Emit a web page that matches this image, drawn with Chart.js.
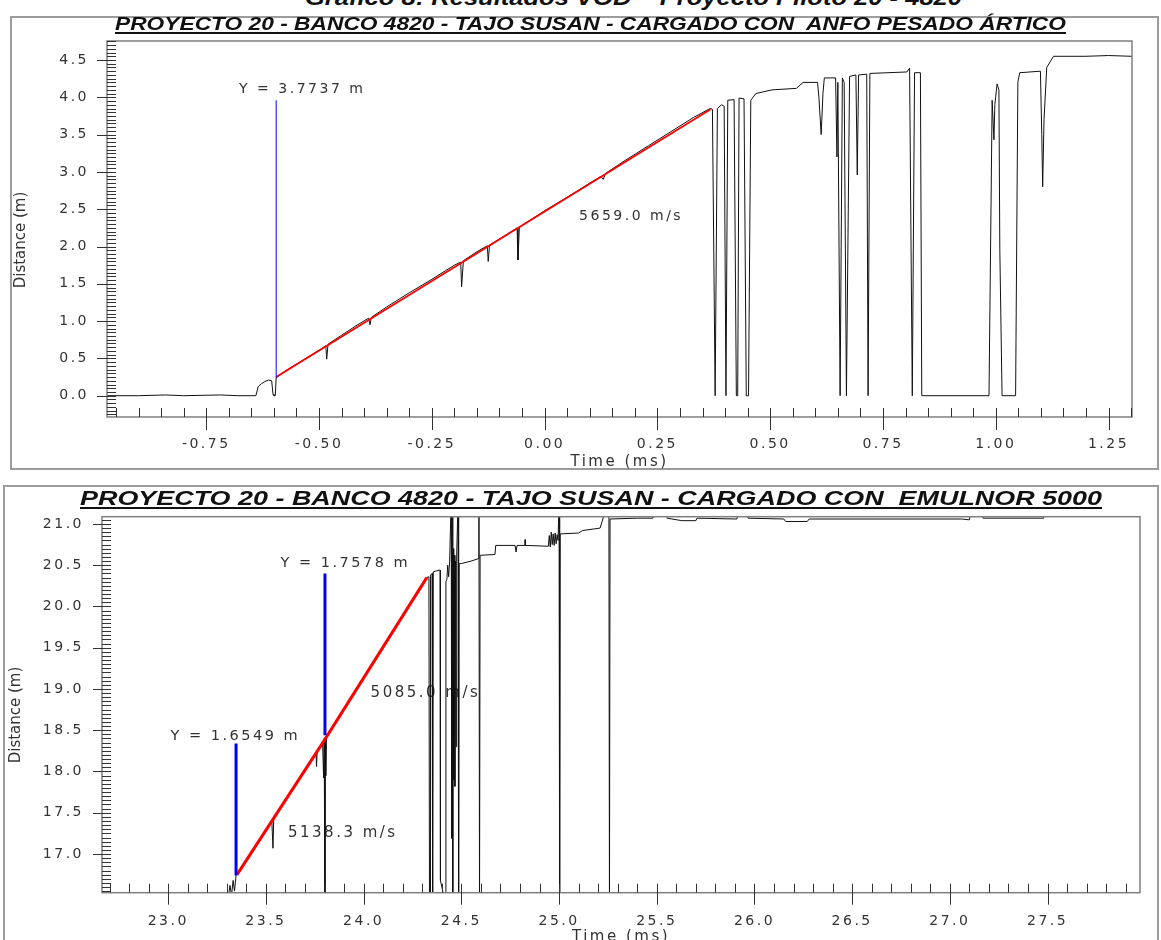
<!DOCTYPE html>
<html>
<head>
<meta charset="utf-8">
<title>Resultados VOD - Proyecto Piloto 20 - 4820</title>
<script src="https://cdn.jsdelivr.net/npm/chart.js"></script>
<style>
    html, body { margin: 0; padding: 0; background: #fff; }
    body { width: 1161px; height: 940px; position: relative; overflow: hidden; }
    .frame { position: absolute; border: 2px solid #9c9c9c; box-sizing: border-box; }
    .box { position: absolute; left: 0; width: 1161px; height: 470px; }
    .ttl { position: absolute; white-space: pre; font-weight: bold; font-style: italic; color: #111;
           transform-origin: 0 0; text-decoration: underline; text-decoration-thickness: 2px; text-underline-offset: 2px; }
    #cap { font-family: "Liberation Sans Narrow", "Liberation Sans", sans-serif; font-size: 22px; line-height: 22px; top: -13px; text-decoration: none; }
    #anfoTitle { font-family: "Liberation Sans Narrow", "Liberation Sans", sans-serif; font-size: 19px; line-height: 19px; top: 14px; }
    #emulTitle { font-family: "Liberation Sans", sans-serif; font-size: 21px; line-height: 21px; top: 487px; }
</style>
</head>
<body>
<div id="cap" class="ttl">Gráfico 8: Resultados VOD – Proyecto Piloto 20 - 4820</div>
<div class="frame" style="left:10px; top:16px; width:1149px; height:454px;"></div>
<div class="frame" style="left:3px; top:485px; width:1156px; height:470px;"></div>
<div class="box" style="top:0"><canvas id="anfoChart"></canvas></div>
<div class="box" style="top:470px"><canvas id="emulChart"></canvas></div>
<div id="anfoTitle" class="ttl">PROYECTO 20 - BANCO 4820 - TAJO SUSAN - CARGADO CON  ANFO PESADO ÁRTICO</div>
<div id="emulTitle" class="ttl">PROYECTO 20 - BANCO 4820 - TAJO SUSAN - CARGADO CON  EMULNOR 5000</div>

<script>
// ---- panel 1: ANFO pesado artico  [time ms, distance m] ----
const anfoTrace = [
    [-0.970, 0.00], [-0.90, 0.00], [-0.84, 0.01], [-0.80, 0.00], [-0.72, 0.01], [-0.68, 0.00],
    [-0.640, 0.00], [-0.635, 0.12], [-0.628, 0.16], [-0.620, 0.19], [-0.612, 0.21], [-0.605, 0.20],
    [-0.602, 0.02], [-0.600, 0.00], [-0.597, 0.00], [-0.595, 0.24], [-0.57, 0.35], [-0.54, 0.46],
    [-0.50, 0.61], [-0.485, 0.67], [-0.483, 0.49], [-0.480, 0.69], [-0.45, 0.81], [-0.42, 0.93],
    [-0.39, 1.04], [-0.387, 0.95], [-0.384, 1.05], [-0.35, 1.19], [-0.30, 1.38], [-0.25, 1.56],
    [-0.20, 1.75], [-0.186, 1.79], [-0.184, 1.46], [-0.180, 1.81], [-0.15, 1.93], [-0.127, 2.01],
    [-0.125, 1.80], [-0.122, 2.02], [-0.09, 2.14], [-0.061, 2.25], [-0.059, 1.82], [-0.056, 2.26],
    [0.00, 2.48], [0.05, 2.66], [0.10, 2.85], [0.125, 2.94], [0.130, 2.90], [0.135, 2.98],
    [0.18, 3.16], [0.23, 3.35], [0.28, 3.54], [0.33, 3.73], [0.367, 3.85], [0.372, 3.84],
    [0.378, 0.00], [0.383, 3.85], [0.392, 3.90], [0.398, 3.88], [0.402, 0.00], [0.406, 3.96],
    [0.420, 3.97], [0.425, 0.00], [0.428, 0.00], [0.431, 3.99], [0.442, 3.98], [0.447, 0.00],
    [0.452, 0.00], [0.457, 3.96], [0.468, 4.05], [0.504, 4.10], [0.558, 4.12], [0.573, 4.20],
    [0.605, 4.20], [0.608, 4.00], [0.613, 3.50], [0.617, 4.05], [0.620, 4.26], [0.645, 4.26],
    [0.648, 3.20], [0.650, 4.20], [0.655, 0.00], [0.660, 4.26], [0.664, 4.20], [0.669, 0.00],
    [0.676, 4.28], [0.690, 4.30], [0.693, 2.96], [0.696, 4.30], [0.714, 4.31], [0.717, 0.00],
    [0.721, 4.32], [0.803, 4.34], [0.809, 4.39], [0.815, 0.00], [0.820, 4.33], [0.833, 4.33],
    [0.836, 0.00], [0.985, 0.00], [0.992, 3.96], [0.996, 3.43], [0.998, 3.90], [1.003, 4.18],
    [1.007, 4.10], [1.009, 1.96], [1.014, 0.00], [1.044, 0.00], [1.049, 4.20], [1.053, 4.33],
    [1.099, 4.35], [1.102, 3.50], [1.104, 2.80], [1.107, 3.70], [1.113, 4.40], [1.128, 4.55],
    [1.20, 4.55], [1.25, 4.56], [1.302, 4.55]
];
const anfoFit = [[-0.595, 0.25], [0.368, 3.84]];
const anfoMarker = [[-0.595, 0.24], [-0.595, 3.96]];
const anfoTicksX = [-0.75, -0.50, -0.25, 0.00, 0.25, 0.50, 0.75, 1.00, 1.25];
const anfoTicksY = [0.0, 0.5, 1.0, 1.5, 2.0, 2.5, 3.0, 3.5, 4.0, 4.5];

// ---- panel 2: EMULNOR 5000 ----
const emulTrace = [
    [23.290, 16.40], [23.306, 16.45], [23.316, 16.62], [23.324, 16.50], [23.332, 16.68], [23.339, 16.55],
    [23.347, 16.74], [23.36, 16.78], [23.40, 16.91], [23.45, 17.10], [23.50, 17.29], [23.530, 17.41],
    [23.536, 17.07], [23.540, 17.44], [23.58, 17.58], [23.62, 17.73], [23.66, 17.88], [23.70, 18.02],
    [23.74, 18.17], [23.756, 18.23], [23.759, 18.06], [23.762, 18.25], [23.790, 18.35], [23.795, 17.92],
    [23.798, 18.40], [23.802, 16.30], [23.804, 18.42], [23.806, 17.95], [23.810, 18.44], [23.85, 18.57],
    [23.90, 18.76], [23.95, 18.93], [24.00, 19.13], [24.05, 19.31], [24.10, 19.50], [24.15, 19.69],
    [24.20, 19.88], [24.25, 20.07], [24.30, 20.26], [24.323, 20.35], [24.334, 20.36], [24.337, 16.30],
    [24.340, 16.30], [24.342, 20.38], [24.350, 20.40], [24.353, 16.30], [24.356, 20.42], [24.386, 20.44],
    [24.391, 20.44], [24.393, 16.68], [24.418, 16.40], [24.421, 20.30], [24.426, 20.33], [24.430, 20.50],
    [24.435, 20.36], [24.440, 20.55], [24.448, 21.30], [24.451, 17.19], [24.453, 20.60], [24.455, 21.30],
    [24.457, 16.30], [24.459, 20.70], [24.461, 17.90], [24.464, 20.62], [24.467, 17.82], [24.470, 20.55],
    [24.473, 18.30], [24.476, 20.60], [24.483, 21.30], [24.486, 16.30], [24.489, 20.52], [24.50, 20.52],
    [24.55, 20.55], [24.588, 20.58], [24.590, 21.30], [24.593, 16.30], [24.596, 20.62], [24.672, 20.63],
    [24.676, 20.74], [24.775, 20.74], [24.780, 20.66], [24.785, 20.74], [24.825, 20.74], [24.826, 20.81],
    [24.828, 20.74], [24.945, 20.73], [24.950, 20.86], [24.955, 20.72], [24.960, 20.90], [24.965, 20.75],
    [24.970, 20.88], [24.975, 20.74], [24.980, 20.89], [24.985, 20.76], [24.990, 20.87], [24.995, 20.80],
    [25.000, 21.30], [25.003, 16.30], [25.006, 20.88], [25.10, 20.89], [25.12, 20.92], [25.21, 20.95],
    [25.255, 21.30], [25.258, 16.30], [25.261, 21.06], [25.40, 21.07], [25.48, 21.07], [25.485, 21.13],
    [25.550, 21.13], [25.553, 21.07], [25.628, 21.04], [25.700, 21.04], [25.706, 21.07], [25.91, 21.06],
    [25.915, 21.12], [25.962, 21.12], [25.967, 21.07], [26.15, 21.06], [26.16, 21.03], [26.27, 21.03],
    [26.28, 21.06], [27.06, 21.06], [27.10, 21.05], [27.105, 21.13], [27.165, 21.13], [27.170, 21.07],
    [27.48, 21.07], [27.485, 21.15], [27.973, 21.16]
];
const emulFit = [[23.352, 16.75], [23.802, 18.39], [24.323, 20.35]];
const emulMarkerA = [[23.347, 16.74], [23.347, 18.34]];
const emulMarkerB = [[23.802, 18.44], [23.802, 20.40]];
const emulTicksX = [23.0, 23.5, 24.0, 24.5, 25.0, 25.5, 26.0, 26.5, 27.0, 27.5];
const emulTicksY = [17.0, 17.5, 18.0, 18.5, 19.0, 19.5, 20.0, 20.5, 21.0];

const toXY = arr => arr.map(p => ({ x: p[0], y: p[1] }));

// frame, minor/major tick marks, notes and the vertical axis title
const axisDecor = {
    id: 'axisDecor',
    beforeDraw(chart) {
        chart.ctx.letterSpacing = '2.5px';
    },
    beforeDatasetsDraw(chart, args, o) {
        const { ctx, scales: { x, y } } = chart;
        ctx.save();
        ctx.fillStyle = '#333';
        ctx.textAlign = 'center';
        ctx.textBaseline = 'middle';
        ctx.letterSpacing = '2.5px';
        o.notes.forEach(n => {
            ctx.font = n.size + 'px "DejaVu Sans"';
            ctx.fillText(n.text, x.getPixelForValue(n.x) + 1.25, y.getPixelForValue(n.y));
        });
        ctx.restore();
    },
    afterDatasetsDraw(chart, args, o) {
        const { ctx, chartArea: a, scales: { x, y } } = chart;
        ctx.save();
        ctx.letterSpacing = '0px';
        ctx.strokeStyle = '#7f7f7f';
        ctx.lineWidth = 1.5;
        ctx.strokeRect(a.left, a.top, a.right - a.left, a.bottom - a.top);

        ctx.strokeStyle = '#333';
        ctx.lineWidth = 1;
        ctx.beginPath();
        const xr = Math.round(o.xMajor / o.xMinor);
        for (let k = Math.ceil(x.min / o.xMinor - 1e-6); k * o.xMinor <= x.max + 1e-6; k++) {
            const px = Math.round(x.getPixelForValue(k * o.xMinor)) + 0.5;
            ctx.moveTo(px, a.bottom - o.tickIn);
            ctx.lineTo(px, a.bottom + (k % xr === 0 ? o.tickOut : 0));
        }
        const yr = Math.round(o.yMajor / o.yMinor);
        for (let k = Math.ceil(y.min / o.yMinor - 1e-6); k * o.yMinor <= y.max + 1e-6; k++) {
            const py = Math.round(y.getPixelForValue(k * o.yMinor)) + 0.5;
            ctx.moveTo(a.left - (k % yr === 0 ? o.tickOut - 3 : 0), py);
            ctx.lineTo(a.left + o.tickIn, py);
        }
        ctx.stroke();

        ctx.fillStyle = '#333';
        ctx.font = '15px "DejaVu Sans"';
        ctx.textAlign = 'center';
        ctx.textBaseline = 'middle';
        ctx.translate(o.yTitleX, o.yTitleY);
        ctx.rotate(-Math.PI / 2);
        ctx.fillText(o.yTitle, 0, 0);
        ctx.restore();
    }
};

function makeChart(id, cfg) {
    const tickFont = { family: 'DejaVu Sans', size: 14 };
    return new Chart(document.getElementById(id), {
        type: 'scatter',
        data: {
            datasets: [
                { data: toXY(cfg.trace), showLine: true, borderColor: '#111', borderWidth: 1, pointRadius: 0, order: 3 },
                { data: toXY(cfg.fit), showLine: true, borderColor: '#ff0000', borderWidth: cfg.fitWidth, pointRadius: 0, order: 2 },
                ...cfg.markers.map(m => ({ data: toXY(m), showLine: true, borderColor: '#0000ff', borderWidth: cfg.markWidth, pointRadius: 0, order: 1 }))
            ]
        },
        options: {
            responsive: true,
            maintainAspectRatio: false,
            animation: false,
            events: [],
            layout: { padding: cfg.padding },
            plugins: {
                legend: { display: false },
                tooltip: { enabled: false },
                axisDecor: cfg.decor
            },
            scales: {
                x: {
                    type: 'linear', min: cfg.xMin, max: cfg.xMax,
                    grid: { display: false, drawTicks: false },
                    border: { display: false },
                    afterBuildTicks: s => { s.ticks = cfg.ticksX.map(v => ({ value: v })); },
                    afterFit: s => { s.height = cfg.xHeight; },
                    ticks: { font: tickFont, color: '#333', padding: cfg.xPad, maxRotation: 0, autoSkip: false,
                             callback: v => v.toFixed(cfg.xDigits) },
                    title: { display: true, text: 'Time (ms)', color: '#333',
                             font: { family: 'DejaVu Sans', size: 15 }, padding: { top: 0, bottom: cfg.xTitlePad } }
                },
                y: {
                    type: 'linear', min: cfg.yMin, max: cfg.yMax,
                    grid: { display: false, drawTicks: false },
                    border: { display: false },
                    afterBuildTicks: s => { s.ticks = cfg.ticksY.map(v => ({ value: v })); },
                    afterFit: s => { s.width = cfg.yWidth; },
                    ticks: { font: tickFont, color: '#333', padding: 18, autoSkip: false,
                             callback: v => v.toFixed(1) }
                }
            }
        },
        plugins: [axisDecor]
    });
}

makeChart('anfoChart', {
    trace: anfoTrace, fit: anfoFit, markers: [anfoMarker], fitWidth: 1.8, markWidth: 1,
    xMin: -0.970, xMax: 1.302, yMin: -0.2855, yMax: 4.755,
    ticksX: anfoTicksX, ticksY: anfoTicksY, xDigits: 2,
    padding: { left: 0, top: 41, right: 29, bottom: 0 },
    xHeight: 53, yWidth: 107, xPad: 19, xTitlePad: -1,
    decor: {
        xMajor: 0.25, xMinor: 0.05, yMajor: 0.5, yMinor: 0.05, tickIn: 9, tickOut: 13,
        yTitle: 'Distance (m)', yTitleX: 21, yTitleY: 240,
        notes: [
            { text: 'Y = 3.7737 m', x: -0.540, y: 4.11, size: 14 },
            { text: '5659.0 m/s', x: 0.189, y: 2.41, size: 14 }
        ]
    }
});

makeChart('emulChart', {
    trace: emulTrace, fit: emulFit, markers: [emulMarkerA, emulMarkerB], fitWidth: 3, markWidth: 3,
    xMin: 22.661, xMax: 27.973, yMin: 16.531, yMax: 21.088,
    ticksX: emulTicksX, ticksY: emulTicksY, xDigits: 1,
    padding: { left: 0, top: 46.7, right: 21, bottom: 0 },
    xHeight: 47.3, yWidth: 102, xPad: 20, xTitlePad: -6,
    decor: {
        xMajor: 0.5, xMinor: 0.1, yMajor: 0.5, yMinor: 0.05, tickIn: 9, tickOut: 12,
        yTitle: 'Distance (m)', yTitleX: 16, yTitleY: 245,
        notes: [
            { text: 'Y = 1.6549 m', x: 23.337, y: 18.43, size: 14.5 },
            { text: 'Y = 1.7578 m', x: 23.900, y: 20.53, size: 14.5 },
            { text: '5138.3 m/s', x: 23.887, y: 17.25, size: 15 },
            { text: '5085.0 m/s', x: 24.310, y: 18.95, size: 15 }
        ]
    }
});

// stretch the bold titles to the width they take in the source figure
function fitTitle(id, left, right) {
    const el = document.getElementById(id);
    const w = el.getBoundingClientRect().width;
    el.style.left = left + 'px';
    el.style.transform = 'scaleX(' + ((right - left) / w) + ')';
}
fitTitle('cap', 305, 962);
fitTitle('anfoTitle', 115, 1066);
fitTitle('emulTitle', 80, 1102);
</script>
</body>
</html>
